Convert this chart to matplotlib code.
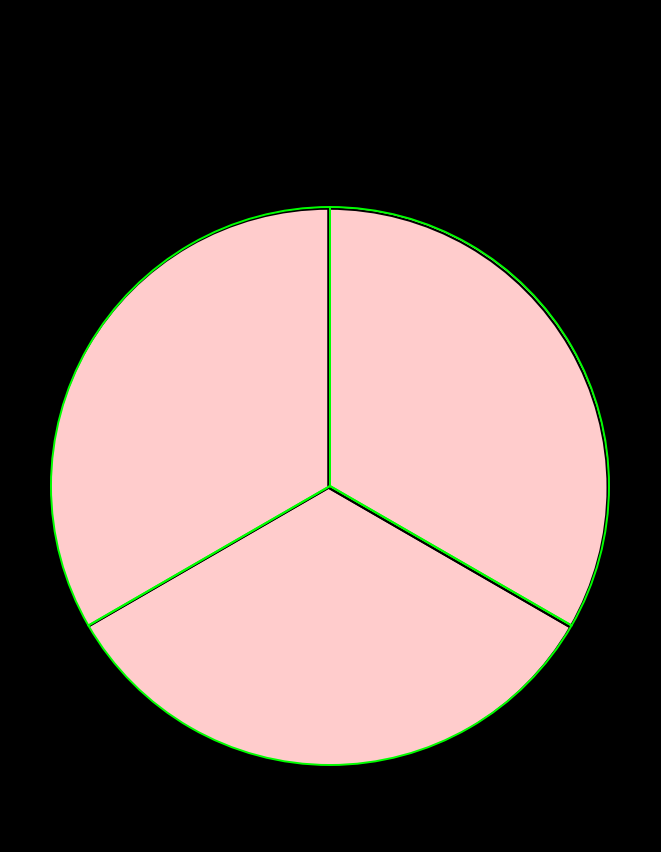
import matplotlib
matplotlib.use('Agg')
import matplotlib.pyplot as plt

# three equal slices
labels = ['A', 'B', 'C']
values = [1, 1, 1]
fill_color = '#ffcccc'

fig = plt.figure(figsize=(6.61, 8.53), dpi=100)
fig.patch.set_facecolor('black')

# axes placed so the pie sits in the lower part of the canvas
ax = fig.add_axes([51 / 661, 87 / 853, 558 / 661, 558 / 853])
ax.set_facecolor('black')

# filled pie
ax.pie(values, colors=[fill_color] * 3, startangle=90, radius=1.0,
       wedgeprops=dict(linewidth=0))
# black outline slightly offset, then the green outline on top
ax.pie(values, startangle=90, radius=1.0, center=(-0.005, -0.006),
       wedgeprops=dict(fill=False, edgecolor='black', linewidth=1.6))
ax.pie(values, startangle=90, radius=1.0,
       wedgeprops=dict(fill=False, edgecolor='#00ff00', linewidth=1.4))

ax.set_xlim(-1.0, 1.0)
ax.set_ylim(-1.0, 1.0)
ax.set_aspect('equal')
ax.axis('off')

fig.savefig('out.png', dpi=100, facecolor='black')
